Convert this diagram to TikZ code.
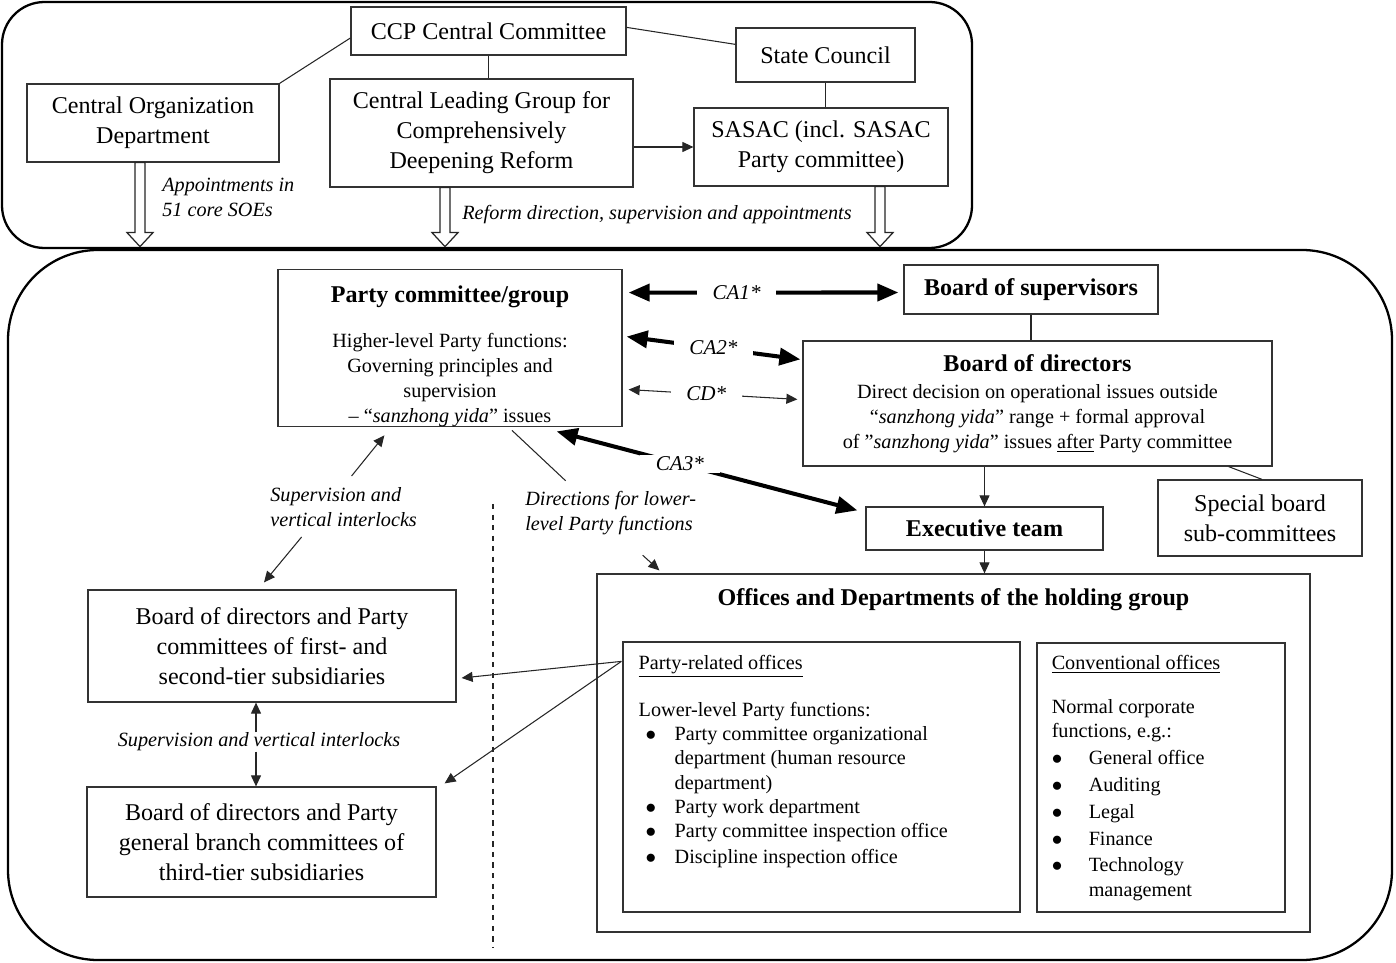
\documentclass[tikz,border=0pt]{standalone}
\usepackage{fontspec}
\setmainfont{Liberation Serif}
\usetikzlibrary{positioning,arrows.meta,calc}
\newlength\pxu
\setlength\pxu{0.2mm}
\newcommand\fsbig{\fontsize{13.7}{17}\selectfont}
\newcommand\fssmall{\fontsize{11.5}{14.3}\selectfont}
\newcommand\fslist{\fontsize{11.5}{13.8}\selectfont}

\begin{document}
\begin{tikzpicture}[
  x=0.2mm, y=-0.2mm,
  box/.style={draw=black!80, line width=0.7pt, inner sep=0pt, align=center, font=\fsbig},
  txt/.style={inner sep=0pt, align=left, font=\fssmall\itshape},
  calabel/.style={fill=white, inner ysep=1pt, inner xsep=9pt, font=\fontsize{12}{14}\selectfont\itshape},
  line/.style={draw=black!85, line width=0.6pt},
  arr/.style={line, -{Triangle[length=2.2mm,width=2mm]}},
  twoarr/.style={line, {Triangle[length=2.2mm,width=2mm]}-{Triangle[length=2.2mm,width=2mm]}},
  bigarr/.style={draw=black, line width=2.3pt, {Triangle[length=4.2mm,width=3.4mm]}-{Triangle[length=4.2mm,width=3.4mm]}},
  hollow/.style={draw=black!85, line width=0.7pt, fill=white},
  frame/.style={draw=black, line width=1.3pt}
]
\useasboundingbox (0,0) rectangle (1396,963);

% outer frames
\draw[frame, rounded corners=8.5mm] (2,2) rectangle (972,248);
\draw[frame, rounded corners=18mm] (8,250) rectangle (1392,960);

% state and party level
\node[box, minimum width=275\pxu, minimum height=48\pxu] (ccp) at (488.5,31) {CCP Central Committee};
\node[box, minimum width=179\pxu, minimum height=54\pxu] (state) at (825.5,55) {State Council};
\node[box, minimum width=252\pxu, minimum height=78\pxu] (cod) at (153,123) {Central Organization\\Department};
\node[box, minimum width=303\pxu, minimum height=108\pxu] (clg) at (481.5,133) {Central Leading Group for\\Comprehensively\\Deepening Reform};
\node[box, minimum width=254\pxu, minimum height=78\pxu] (sasac) at (821,147) {SASAC (incl. SASAC\\Party committee)};

\draw[line] ($(ccp.west)+(0,7)$) -- (cod.north east);
\draw[line] ($(ccp.north east)+(0,21)$) -- ($(state.north west)+(0,17)$);
\draw[line] (ccp.south) -- (ccp.south |- clg.north);
\draw[line] (state.south) -- (state.south |- sasac.north);
\draw[arr] (clg.east |- sasac.west) -- (sasac.west);

\draw[hollow] ($(cod.south)+(-18,0)$) -- ++(0,70) -- ++(-8,0) -- ++(13,14) -- ++(13,-14) -- ++(-8,0) -- ++(0,-70) -- cycle;
\draw[hollow] ($(clg.south)+(-41.5,0)$) -- ++(0,45) -- ++(-8,0) -- ++(13,14) -- ++(13,-14) -- ++(-8,0) -- ++(0,-45) -- cycle;
\draw[hollow] ($(sasac.south)+(54,0)$) -- ++(0,46) -- ++(-8,0) -- ++(13,14) -- ++(13,-14) -- ++(-8,0) -- ++(0,-46) -- cycle;

\node[txt, anchor=west] (appoint) at (162,197) {Appointments in\\51 core SOEs};
\node[txt, anchor=west] (reform) at (462,215) {Reform direction, supervision and appointments};

% holding group
\node[box, font=\fssmall, minimum width=344\pxu, minimum height=152\pxu] (party) at (450,348)
  {{\fsbig\bfseries\rule{0pt}{19pt}Party committee/group}\\[11pt] Higher-level Party functions:\\Governing principles and\\supervision\\-- ``\textit{sanzhong yida}'' issues};
\node[box, font=\fsbig\bfseries, minimum width=254\pxu, minimum height=49\pxu] (bos) at (1031,289.5) {Board of supervisors};
\node[box, font=\fssmall, minimum width=469\pxu, minimum height=125\pxu] (bod) at (1037.5,403.5)
  {{\fsbig\bfseries Board of directors}\\[1pt]Direct decision on operational issues outside\\``\textit{sanzhong yida}'' range + formal approval\\of ''\textit{sanzhong yida}'' issues \underline{after} Party committee};
\node[box, minimum width=204\pxu, minimum height=76\pxu] (special) at (1260,518) {Special board\\sub-committees};
\node[box, font=\fsbig\bfseries, minimum width=237\pxu, minimum height=43\pxu] (exec) at (984.5,528.5) {Executive team};

\node[box, minimum width=713\pxu, minimum height=358\pxu,
  label={[anchor=north, font=\fsbig\bfseries, yshift=-9\pxu]north:Offices and Departments of the holding group}] (offices) at (953.5,753) {};
\node[box, minimum width=397\pxu, minimum height=270\pxu] (prel) at (821.5,777) {};
\node[box, minimum width=248\pxu, minimum height=269\pxu] (conv) at (1161,777.5) {};

\node[anchor=north west, inner sep=0pt, font=\fslist] (preltxt) at ($(prel.north west)+(16,10.5)$) {%
  \begin{tabular}{@{}p{7.2mm}@{}l@{}}
    \multicolumn{2}{@{}l@{}}{\underline{Party-related offices}}\\[4.6mm]
    \multicolumn{2}{@{}l@{}}{Lower-level Party functions:}\\
    \hspace*{1.4mm}$\bullet$ & Party committee organizational\\
     & department (human resource\\
     & department)\\
    \hspace*{1.4mm}$\bullet$ & Party work department\\
    \hspace*{1.4mm}$\bullet$ & Party committee inspection office\\[0.3mm]
    \hspace*{1.4mm}$\bullet$ & Discipline inspection office
  \end{tabular}};
\node[anchor=north west, inner sep=0pt, font=\fslist] (convtxt) at ($(conv.north west)+(15,10)$) {%
  \begin{tabular}{@{}p{7.4mm}@{}l@{}}
    \multicolumn{2}{@{}l@{}}{\underline{Conventional offices}}\\[3.9mm]
    \multicolumn{2}{@{}l@{}}{Normal corporate}\\
    \multicolumn{2}{@{}l@{}}{functions, e.g.:}\\[0.6mm]
    $\bullet$ & General office\\[0.5mm]
    $\bullet$ & Auditing\\[0.5mm]
    $\bullet$ & Legal\\[0.5mm]
    $\bullet$ & Finance\\[0.5mm]
    $\bullet$ & Technology\\
     & management
  \end{tabular}};

\node[box, minimum width=368\pxu, minimum height=112\pxu] (sub1) at (272,646) {Board of directors and Party\\committees of first- and\\second-tier subsidiaries};
\node[box, minimum width=349\pxu, minimum height=110\pxu] (sub2) at (261.5,842) {Board of directors and Party\\general branch committees of\\third-tier subsidiaries};

\node[txt, anchor=west] (sup1) at (270,507) {Supervision and\\vertical interlocks};
\node[txt, anchor=west] (dir) at (525,513) {Directions for lower-\\level Party functions};
\node[txt] (mid) at (259,742) {Supervision and vertical interlocks};

% control arrows
\draw[bigarr] ($(party.north east)+(6,24)$) -- node[calabel, pos=0.4] (ca1) {CA1*} ($(bos.west)+(-5,3)$);
\draw[bigarr] ($(party.north east)+(4,68)$) -- node[calabel, pos=0.5] (ca2) {CA2*} ($(bod.north west)+(-2,19)$);
\draw[twoarr] ($(party.north east)+(6,121)$) -- node[calabel, pos=0.46] (cd) {CD*} ($(bod.north west)+(-5,59)$);
\draw[bigarr] ($(party.south east)+(-66,4)$) -- node[calabel, pos=0.41] (ca3) {CA3*} ($(exec.north west)+(-8,4)$);

\draw[line] (bos.south) -- (bos.south |- bod.north);
\draw[arr] (exec.north |- bod.south) -- (exec.north);
\draw[line] ($(bod.south east)+(-44,0)$) -- ($(special.north)+(2,0)$);
\draw[arr] (exec.south) -- (exec.south |- offices.north);

\draw[arr] ($(sup1.north)+(8,-11)$) -- ($(party.south west)+(107,8)$);
\draw[arr] ($(sup1.south)+(-42,10)$) -- ($(sub1.north)+(-8,-7)$);
\draw[line] ($(party.south)+(62,3)$) -- ($(dir.north)+(-45,-10)$);
\draw[arr] ($(dir.south)+(32,20)$) -- ($(offices.north west)+(63,-3)$);

\draw[arr] (mid.north -| 256,0) -- (sub1.south -| 256,0);
\draw[arr] (mid.south -| 256,0) -- (sub2.north -| 256,0);

\draw[arr] ($(prel.north west)+(-1,20)$) -- ($(sub1.east)+(5,32)$);
\draw[arr] ($(prel.north west)+(-1,20)$) -- ($(sub2.north east)+(8,-3)$);

% divider
\draw[line, dashed] (493,504) -- (493,948);
\end{tikzpicture}
\end{document}
